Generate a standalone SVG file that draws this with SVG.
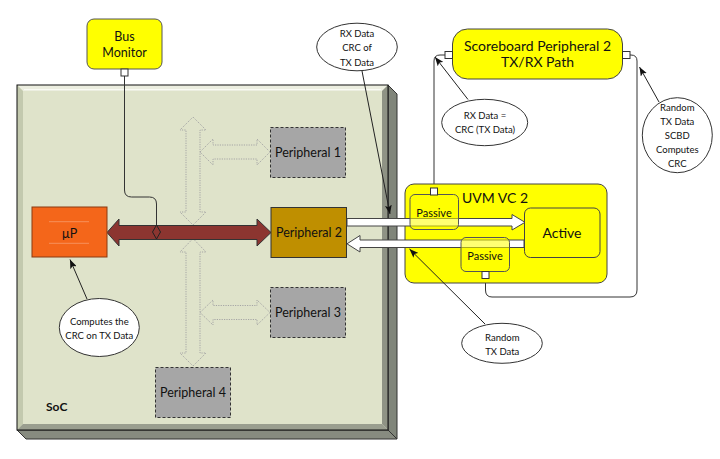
<svg xmlns="http://www.w3.org/2000/svg" width="720" height="459" viewBox="0 0 720 459">
<defs>
<style>
text{font-family:Lato,"Liberation Sans",sans-serif;fill:#111;text-anchor:middle}
.lbl{font-size:12.5px}
.big{font-size:14px}
.co{font-size:9.5px}
.per{stroke:#333;stroke-width:1;stroke-dasharray:3,2;fill:#a6a6a6}
.dot{fill:none;stroke:#a5a5a5;stroke-width:1;stroke-dasharray:1.2,1.2}
.wire{fill:none;stroke:#333;stroke-width:1}
.call{fill:none;stroke:#222;stroke-width:1;marker-end:url(#ah)}
.ell{fill:#fff;stroke:#333;stroke-width:1}
.port{fill:#fff;stroke:#333;stroke-width:1}
.wa{fill:#fff;stroke:#444;stroke-width:1}
.yel{fill:#ffff00;stroke:#444;stroke-width:1}
</style>
<marker id="ah" viewBox="0 0 9 7" refX="9" refY="3.5" markerWidth="9" markerHeight="7" markerUnits="userSpaceOnUse" orient="auto">
<path d="M0,0 L9,3.5 L0,7 L2,3.5 z" fill="#111"/>
</marker>
</defs>
<rect width="720" height="459" fill="#fff"/>

<g id="soc">
<polygon points="388,85 397,94 397,439 388,430" fill="#80857a" stroke="#333" stroke-width="1"/>
<polygon points="17,430 388,430 397,439 26,439" fill="#878b80" stroke="#333" stroke-width="1"/>
<rect x="17" y="85" width="371" height="345" fill="#dfe3ca"/>
<polygon points="17,85 388,85 382,91 23,91" fill="#eceee0"/>
<polygon points="17,85 23,91 23,424 17,430" fill="#c3c9ae"/>
<polygon points="388,85 388,430 382,424 382,91" fill="#8f9385"/>
<polygon points="17,430 388,430 382,424 23,424" fill="#9a9e8f"/>
<line x1="24" y1="89.5" x2="381" y2="89.5" stroke="#fafbf4" stroke-width="1"/>
<rect x="17" y="85" width="371" height="345" fill="none" stroke="#111" stroke-width="1"/>
<text x="46" y="411" style="font-size:12px;font-weight:bold;text-anchor:start">SoC</text>
</g>

<g id="connectors">
<polygon class="dot" points="193,117 206,130 200,130 200,212 206,212 193,225 180,212 186,212 186,130 180,130"/>
<polygon class="dot" points="200,152 213,139 213,145 257,145 257,139 270,152 257,165 257,159 213,159 213,165"/>
<polygon class="dot" points="193,238.5 206,252 200,252 200,353 206,353 193,366 180,353 186,353 186,252 180,252"/>
<polygon class="dot" points="200,312.5 213,300 213,305.5 257,305.5 257,300 270,312.5 257,325 257,319.5 213,319.5 213,325"/>
<polygon points="107,232.5 119,219 119,225.5 257,225.5 257,219 271,232.5 257,246 257,239.5 119,239.5 119,246" fill="#8c3530" stroke="#333" stroke-width="1"/>
<path class="wire" d="M124.5,76 V190 Q124.5,197 131.5,197 H149.5 Q156.5,197 156.5,204 V225"/>
<polygon points="156.5,225 160.5,232 156.5,239 152.5,232" fill="#8c3530" stroke="#222" stroke-width="1"/>
<path class="wire" d="M445,55 H440 Q434,55 434,61 V188"/>
<path class="wire" d="M630,55 H631 Q637,55 637,61 V290 Q637,297 630,297 H492 Q485.5,297 485.5,290 V278"/>
</g>

<g id="bus-monitor">
<rect x="87" y="19" width="75" height="50" rx="7" fill="#ffff00" stroke="#555" stroke-width="1"/>
<text class="lbl" x="124.5" y="41">Bus</text>
<text class="lbl" x="124.5" y="57">Monitor</text>
<rect class="port" x="121" y="69" width="7" height="7"/>
</g>

<g id="up">
<rect x="32" y="207" width="75" height="50" fill="#f4661a" stroke="#8a3a10" stroke-width="1"/>
<line x1="49" y1="221.7" x2="89" y2="221.7" stroke="#f7905a" stroke-width="1"/>
<line x1="49" y1="243.3" x2="89" y2="243.3" stroke="#f7905a" stroke-width="1"/>
<text class="lbl" x="69.5" y="237.5">µP</text>
</g>

<g id="peripheral-1">
<rect class="per" x="270.5" y="127.5" width="75" height="50"/>
<text class="lbl" x="308" y="157">Peripheral 1</text>
</g>
<g id="peripheral-2">
<rect x="271" y="207.5" width="75.5" height="50" fill="#bf8f00" stroke="#333" stroke-width="1"/>
<text class="lbl" x="309" y="237">Peripheral 2</text>
</g>
<g id="peripheral-3">
<rect class="per" x="270.5" y="287.5" width="75" height="50"/>
<text class="lbl" x="308" y="317">Peripheral 3</text>
</g>
<g id="peripheral-4">
<rect class="per" x="155.5" y="367.5" width="75" height="50"/>
<text class="lbl" x="193" y="397">Peripheral 4</text>
</g>

<g id="scoreboard">
<rect x="452.5" y="29" width="170" height="50" rx="15" fill="#ffff00" stroke="#444" stroke-width="1"/>
<text class="big" x="537.5" y="51">Scoreboard Peripheral 2</text>
<text class="big" x="537.5" y="66.5">TX/RX Path</text>
<rect class="port" x="445" y="51.5" width="7.5" height="7"/>
<rect class="port" x="622.5" y="51.5" width="7.5" height="7"/>
</g>

<g id="uvm-vc-2">
<rect class="yel" x="405" y="184" width="202" height="99" rx="9"/>
<text class="big" x="495" y="202.5">UVM VC 2</text>
</g>

<g id="data-arrows">
<polygon class="wa" points="347,218.5 512,218.5 512,214.5 525,222.3 512,230 512,226 347,226"/>
<polygon class="wa" points="347,243.8 360,235.5 360,240 524,240 524,247.5 360,247.5 360,252"/>
</g>

<g id="passive-upper">
<rect x="410" y="194.5" width="48.5" height="35" rx="5" fill="#ffff00" fill-opacity="0.55" stroke="#555" stroke-width="1"/>
<text x="434" y="216.5" style="font-size:11px">Passive</text>
<rect class="port" x="430.5" y="188" width="7" height="7"/>
</g>
<g id="passive-lower">
<rect x="461" y="237.5" width="48.5" height="34" rx="5" fill="#ffff00" fill-opacity="0.55" stroke="#555" stroke-width="1"/>
<text x="485" y="260" style="font-size:11px">Passive</text>
<rect class="port" x="482" y="271.5" width="7" height="7"/>
</g>
<g id="active">
<rect class="yel" x="524.5" y="208" width="75.5" height="49.5" rx="6"/>
<text class="big" x="562" y="237.5">Active</text>
</g>

<g id="callouts">
<line class="call" x1="87" y1="299" x2="70" y2="259.5"/>
<line class="call" x1="362" y1="71" x2="390" y2="214"/>
<line class="call" x1="468" y1="99.5" x2="435" y2="57"/>
<line class="call" x1="659" y1="102" x2="639.5" y2="67"/>
<line class="call" x1="485" y1="324" x2="409.5" y2="249"/>
</g>

<g id="callout-computes">
<ellipse class="ell" cx="99.3" cy="327.5" rx="40" ry="29"/>
<text class="co" x="99.3" y="325">Computes the</text>
<text class="co" x="99.3" y="339">CRC on TX Data</text>
</g>
<g id="callout-rx-crc">
<ellipse class="ell" cx="357" cy="47" rx="40.3" ry="23.8"/>
<text class="co" x="357" y="36.6">RX Data</text>
<text class="co" x="357" y="51">CRC of</text>
<text class="co" x="357" y="65.6">TX Data</text>
</g>
<g id="callout-rx-eq">
<ellipse class="ell" cx="484.7" cy="122.5" rx="43" ry="23.2"/>
<text class="co" x="485" y="119.3">RX Data =</text>
<text class="co" x="485" y="133.3">CRC (TX Data)</text>
</g>
<g id="callout-scbd">
<ellipse class="ell" cx="677.3" cy="135.2" rx="35" ry="37.5"/>
<text class="co" x="677.3" y="111">Random</text>
<text class="co" x="677.3" y="125">TX Data</text>
<text class="co" x="677.3" y="139.3">SCBD</text>
<text class="co" x="677.3" y="153.3">Computes</text>
<text class="co" x="677.3" y="167.3">CRC</text>
</g>
<g id="callout-random">
<ellipse class="ell" cx="502" cy="343.3" rx="40.3" ry="20"/>
<text class="co" x="502.3" y="341">Random</text>
<text class="co" x="502.3" y="355">TX Data</text>
</g>
</svg>
